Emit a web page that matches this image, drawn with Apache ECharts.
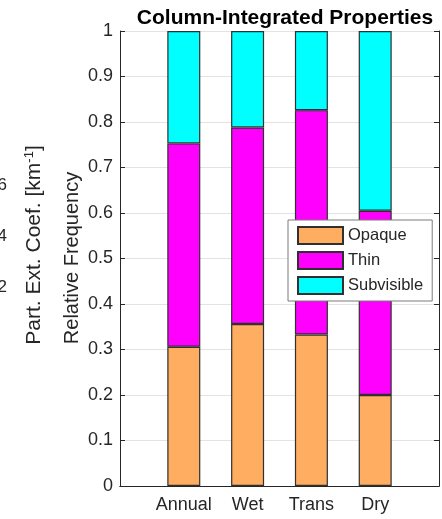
<!DOCTYPE html>
<html>
<head>
<meta charset="utf-8">
<script src="https://cdn.jsdelivr.net/npm/echarts@6/dist/echarts.min.js"></script>
<style>
  html, body { margin: 0; padding: 0; background: #fff; }
  #chart { width: 442px; height: 519px; }
</style>
</head>
<body>
<div id="chart"></div>
<script>
// Column-integrated cloud type frequencies per season
const categories = ['Annual', 'Wet', 'Trans', 'Dry'];
const opaque     = [0.306, 0.356, 0.333, 0.200];
const thin       = [0.447, 0.432, 0.493, 0.405];
const subvisible = [0.247, 0.212, 0.174, 0.395];
const yTicks = [0, 0.1, 0.2, 0.3, 0.4, 0.5, 0.6, 0.7, 0.8, 0.9, 1];
// tick labels of the neighbouring panel, cut by the page edge
const sideTicks = ['6', '4', '2'];

const FONT = '"Liberation Sans", Arial, Helvetica, sans-serif';
const INK = '#262626';

// pad the category axis with blank slots so the bars sit at x = 1..4 of 0..5
const xCats = [''].concat(categories, ['']);
const pad = arr => [null].concat(arr, [null]);

const chart = echarts.init(document.getElementById('chart'), null, { renderer: 'canvas' });

const barStyle = color => ({ color: color, borderColor: '#303030', borderWidth: 1.2 });

const option = {
  animation: false,
  backgroundColor: '#fff',
  title: {
    text: 'Column-Integrated Properties',
    left: 280, top: 3, textAlign: 'center',
    textStyle: { fontFamily: FONT, fontSize: 21, fontWeight: 'bold', color: '#000' }
  },
  grid: { left: 120, top: 31, width: 325, height: 455, containLabel: false },
  legend: {
    orient: 'vertical',
    left: 288, top: 220,
    itemWidth: 45, itemHeight: 17, itemGap: 6,
    padding: [6, 9, 6, 9],
    backgroundColor: '#fff',
    borderColor: '#7a7a7a', borderWidth: 1,
    textStyle: { fontFamily: FONT, fontSize: 16.5, color: INK },
    icon: 'rect',
    data: ['Opaque', 'Thin', 'Subvisible']
  },
  xAxis: [{
    type: 'category', data: xCats, boundaryGap: false,
    axisLine: { lineStyle: { color: INK, width: 1 } },
    axisTick: { show: false },
    axisLabel: { fontFamily: FONT, fontSize: 18, color: INK, margin: 10, interval: 0 },
    splitLine: { show: false }
  }, {
    type: 'category', data: xCats, boundaryGap: false, position: 'top',
    axisLine: { lineStyle: { color: INK, width: 1 } },
    axisTick: { show: false }, axisLabel: { show: false }, splitLine: { show: false }
  }],
  yAxis: [{
    type: 'value', min: yTicks[0], max: yTicks[yTicks.length - 1], interval: 0.1,
    axisLine: { show: true, lineStyle: { color: INK, width: 1 } },
    axisTick: { show: true, inside: true, length: 5, lineStyle: { color: INK } },
    axisLabel: {
      fontFamily: FONT, fontSize: 18, color: INK, margin: 7,
      formatter: v => String(Math.round(v * 10) / 10)
    },
    splitLine: { show: true, lineStyle: { color: '#e3e3e3', width: 1 } }
  }, {
    type: 'value', min: 0, max: 1, interval: 0.1, position: 'right',
    axisLine: { show: true, lineStyle: { color: INK, width: 1 } },
    axisTick: { show: true, inside: true, length: 5, lineStyle: { color: INK } },
    axisLabel: { show: false }, splitLine: { show: false }
  }],
  series: [
    { name: 'Opaque', type: 'bar', stack: 'freq', barWidth: 33, data: pad(opaque), itemStyle: barStyle('#FFAD60') },
    { name: 'Thin', type: 'bar', stack: 'freq', barWidth: 33, data: pad(thin), itemStyle: barStyle('#FF00FF') },
    { name: 'Subvisible', type: 'bar', stack: 'freq', barWidth: 33, data: pad(subvisible), itemStyle: barStyle('#00FFFF') }
  ],
  graphic: [
    {
      type: 'text', x: 72, y: 258, rotation: Math.PI / 2,
      style: {
        text: 'Relative Frequency', align: 'center', verticalAlign: 'middle',
        fontFamily: FONT, fontSize: 20, fill: INK
      }
    },
    {
      type: 'text', x: 34, y: 245, rotation: Math.PI / 2,
      style: {
        text: '{a|Part. Ext. Coef. [km}{s|-1}{a|]}',
        align: 'center', verticalAlign: 'middle',
        rich: {
          a: { fontFamily: FONT, fontSize: 21, fill: INK, color: INK },
          s: { fontFamily: FONT, fontSize: 13, fill: INK, color: INK, verticalAlign: 'top', padding: [0, 0, 9, 0] }
        }
      }
    }
  ].concat(sideTicks.map((t, i) => ({
    type: 'text', x: 7, y: 185 + i * 51,
    style: { text: t, align: 'right', verticalAlign: 'middle', fontFamily: FONT, fontSize: 17, fill: INK }
  })))
};

chart.setOption(option);
</script>
</body>
</html>
